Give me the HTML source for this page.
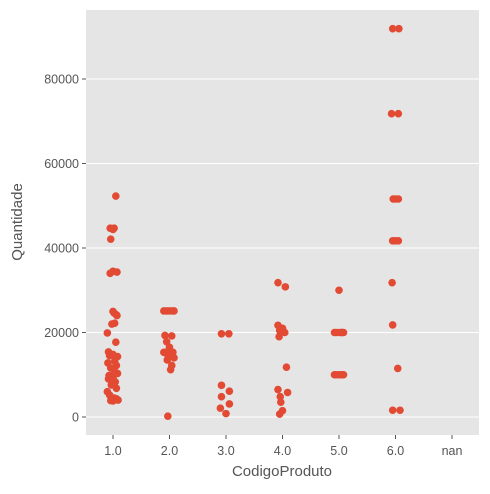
<!DOCTYPE html>
<html><head><meta charset="utf-8"><style>
body{margin:0;background:#fff;font-family:"Liberation Sans","DejaVu Sans",sans-serif}
</style></head><body>
<svg id="chart" width="490" height="489" xmlns="http://www.w3.org/2000/svg">
<rect x="86" y="10" width="393" height="425" fill="#E5E5E5"/>
<g id="grid"></g><g id="pts"></g><g id="axes"></g>
<text x="282" y="476" text-anchor="middle" font-size="15" fill="#555">CodigoProduto</text>
<text x="22" y="222" text-anchor="middle" font-size="15" fill="#555" transform="rotate(-90 22 222)">Quantidade</text>
</svg>
<script>
const categories=["1.0","2.0","3.0","4.0","5.0","6.0","nan"];
const yTicks=[0,20000,40000,60000,80000];
const pointCat=[0,0,0,0,0,0,0,0,0,0,0,0,0,0,0,0,0,0,0,0,0,0,0,0,0,0,0,0,0,0,0,0,0,0,0,0,0,0,0,0,
1,1,1,1,1,1,1,1,1,1,1,1,1,1,1,1,1,1,1,1,
2,2,2,2,2,2,2,2,
3,3,3,3,3,3,3,3,3,3,3,3,3,3,
4,4,4,4,4,4,4,4,4,4,4,4,4,4,4];
const pointJitter=[0.05,-0.05,0.0,0.02,-0.04,0.0,0.07,-0.05,0.02,0.0,0.06,0.07,0.03,-0.02,-0.1,0.05,-0.08,0.0,0.08,-0.06,0.03,-0.09,0.06,-0.04,0.02,0.08,-0.07,0.0,-0.08,0.04,-0.03,0.06,-0.1,-0.06,-0.02,0.02,0.06,0.09,-0.04,0.0,
-0.1,-0.05,0.0,0.05,0.08,-0.08,0.04,-0.05,0.0,0.06,-0.1,-0.07,0.02,0.08,-0.04,0.04,0.02,-0.05,-0.01,-0.03,
-0.08,0.05,-0.08,0.06,-0.08,0.06,-0.1,0.0,
-0.08,0.05,-0.08,-0.05,0.04,0.0,-0.06,0.07,-0.08,0.09,-0.04,-0.03,0.0,-0.05,
0.0,0.05,0.0,0.05,-0.05,0.05,0.0,0.05,0.03,-0.05,0.05,-0.08,0.08,-0.08,0.08];
const pointValue=[52300,44700,44400,44700,42100,34500,34300,34000,24600,25000,24200,24000,22200,22000,19900,17700,15400,14800,14300,14500,13200,12800,12200,11600,11000,10300,9800,9300,9000,8300,7600,6800,6000,5200,4500,4500,4300,4000,3900,3800,
25100,25100,25100,25100,25100,19300,19200,17800,16500,15300,15300,15300,15300,14000,13500,12200,11200,15000,14200,200,
19700,19700,7500,6100,4800,3100,2100,800,
31800,30800,21700,20500,20000,21000,19000,11800,6500,5800,4800,3500,1500,700,
30000,20000,20000,20000,20000,20000,10000,10000,10000,10000,10000,20000,20000,10000,10000];
const c6Jitter=[-0.05,0.06,-0.07,0.05,-0.04,0.05,0.0,-0.05,0.05,0.0,-0.06,-0.05,0.04,-0.05,0.08];
const c6Value=[91900,91900,71800,71800,51600,51600,51600,41700,41700,41700,31800,21800,11500,1600,1600];
const X0=113,DX=56.5,Y0=417,PPU=84.5/20000;
const xs=(i)=>X0+i*DX, ys=(v)=>Y0-v*PPU;
const NS="http://www.w3.org/2000/svg";
const grid=document.getElementById('grid'),pts=document.getElementById('pts'),axes=document.getElementById('axes');
yTicks.forEach(t=>{
 const l=document.createElementNS(NS,'line');
 l.setAttribute('x1',86);l.setAttribute('x2',479);l.setAttribute('y1',ys(t));l.setAttribute('y2',ys(t));
 l.setAttribute('stroke','#fff');l.setAttribute('stroke-width','1');
 
 
 grid.appendChild(l);
 const tk=document.createElementNS(NS,'line');
 tk.setAttribute('x1',82);tk.setAttribute('x2',86);tk.setAttribute('y1',ys(t));tk.setAttribute('y2',ys(t));tk.setAttribute('stroke','#555');
 
 
 axes.appendChild(tk);
 const tx=document.createElementNS(NS,'text');
 tx.setAttribute('x',79);tx.setAttribute('y',ys(t)+4.5);tx.setAttribute('text-anchor','end');tx.setAttribute('font-size','12.5');tx.setAttribute('fill','#555');
 tx.textContent=t;
 
 
 axes.appendChild(tx);
});
categories.forEach((c,i)=>{
 const tk=document.createElementNS(NS,'line');
 tk.setAttribute('x1',xs(i));tk.setAttribute('x2',xs(i));tk.setAttribute('y1',435);tk.setAttribute('y2',439);tk.setAttribute('stroke','#555');
 
 
 axes.appendChild(tk);
 const tx=document.createElementNS(NS,'text');
 tx.setAttribute('x',xs(i));tx.setAttribute('y',455);tx.setAttribute('text-anchor','middle');tx.setAttribute('font-size','12.5');tx.setAttribute('fill','#555');
 tx.textContent=c;
 
 
 axes.appendChild(tx);
});
function dot(ci,j,v){
 const p=document.createElementNS(NS,'circle');
 p.setAttribute('cx',xs(ci+j));p.setAttribute('cy',ys(v));p.setAttribute('r',3.8);p.setAttribute('fill','#E24A33');
 
 
 pts.appendChild(p);
}
pointValue.forEach((v,k)=>dot(pointCat[k],pointJitter[k],v));
c6Value.forEach((v,k)=>dot(5,c6Jitter[k],v));
</script>
</body></html>
